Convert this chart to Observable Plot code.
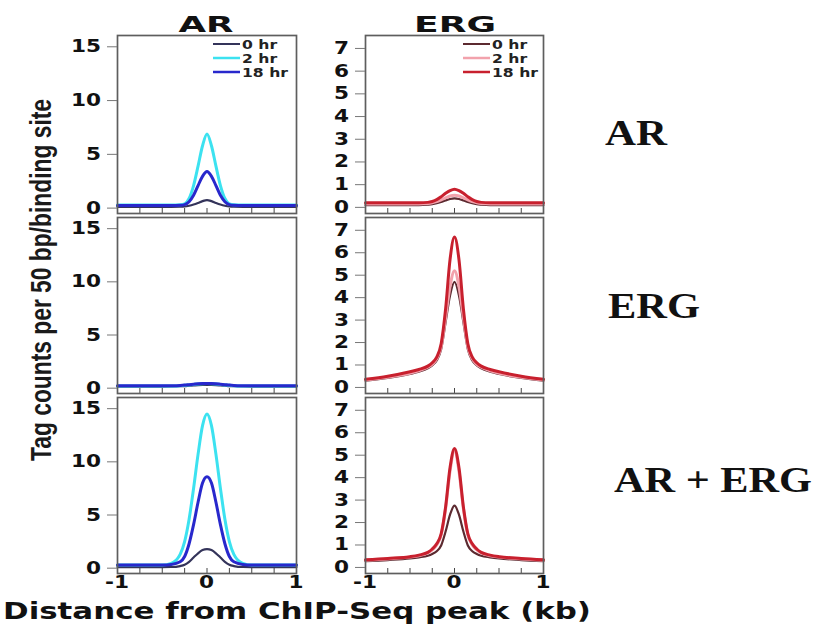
<!DOCTYPE html>
<html><head><meta charset="utf-8">
<script src="https://cdn.jsdelivr.net/npm/d3@7"></script>
<script src="https://cdn.jsdelivr.net/npm/@observablehq/plot@0.6"></script>
<style>
body{margin:0;background:#fff;}
#wrap{position:relative;width:819px;height:635px;overflow:hidden;background:#fff;}
#wrap svg{position:absolute;}
</style></head><body><div id="wrap"></div>
<script>
// ---- data ----
const distance = [-1, -0.75, -0.5, -0.4, -0.3, -0.25, -0.2, -0.15, -0.1, -0.05, 0, 0.05, 0.1, 0.15, 0.2, 0.25, 0.3, 0.4, 0.5, 0.75, 1];
const timepoints = ["0 hr", "2 hr", "18 hr"];
const arColors = ["#34345a", "#3ce2f0", "#2828cc"];
const ergColors = ["#5c2a30", "#f2a2ac", "#c8202e"];

// Row "AR" sites
const arChip_arSites_0hr  = [0.12,0.12,0.12,0.12,0.13,0.15,0.22,0.33,0.48,0.65,0.75,0.65,0.48,0.33,0.22,0.15,0.13,0.12,0.12,0.12,0.12];
const arChip_arSites_2hr  = [0.3,0.3,0.3,0.3,0.32,0.4,0.9,2.1,3.9,5.8,6.9,5.8,3.9,2.1,0.9,0.4,0.32,0.3,0.3,0.3,0.3];
const arChip_arSites_18hr = [0.25,0.25,0.25,0.25,0.27,0.33,0.6,1.2,2.1,2.95,3.4,2.95,2.1,1.2,0.6,0.33,0.27,0.25,0.25,0.25,0.25];
const ergChip_arSites_0hr  = [0.1,0.1,0.1,0.1,0.12,0.14,0.18,0.24,0.31,0.37,0.4,0.37,0.31,0.24,0.18,0.14,0.12,0.1,0.1,0.1,0.1];
const ergChip_arSites_2hr  = [0.15,0.15,0.15,0.15,0.17,0.2,0.25,0.33,0.42,0.5,0.53,0.5,0.42,0.33,0.25,0.2,0.17,0.15,0.15,0.15,0.15];
const ergChip_arSites_18hr = [0.2,0.2,0.2,0.2,0.22,0.26,0.34,0.47,0.62,0.74,0.8,0.74,0.62,0.47,0.34,0.26,0.22,0.2,0.2,0.2,0.2];
// Row "ERG" sites
const arChip_ergSites_0hr  = [0.15,0.15,0.15,0.16,0.18,0.2,0.23,0.26,0.29,0.31,0.32,0.31,0.29,0.26,0.23,0.2,0.18,0.16,0.15,0.15,0.15];
const arChip_ergSites_2hr  = [0.2,0.2,0.2,0.21,0.24,0.27,0.31,0.35,0.39,0.42,0.43,0.42,0.39,0.35,0.31,0.27,0.24,0.21,0.2,0.2,0.2];
const arChip_ergSites_18hr = [0.22,0.22,0.22,0.23,0.26,0.29,0.33,0.37,0.41,0.44,0.45,0.44,0.41,0.37,0.33,0.29,0.26,0.23,0.22,0.22,0.22];
const ergChip_ergSites_0hr  = [0.3,0.42,0.6,0.7,0.85,0.98,1.2,1.7,2.9,4.1,4.7,4.1,2.9,1.7,1.2,0.98,0.85,0.7,0.6,0.42,0.3];
const ergChip_ergSites_2hr  = [0.33,0.45,0.63,0.74,0.9,1.03,1.27,1.8,3.1,4.5,5.2,4.5,3.1,1.8,1.27,1.03,0.9,0.74,0.63,0.45,0.33];
const ergChip_ergSites_18hr = [0.36,0.5,0.7,0.8,0.95,1.1,1.35,1.95,3.5,5.7,6.7,5.7,3.5,1.95,1.35,1.1,0.95,0.8,0.7,0.5,0.36];
// Row "AR + ERG" sites
const arChip_bothSites_0hr  = [0.1,0.1,0.1,0.11,0.2,0.32,0.6,1.0,1.4,1.7,1.8,1.7,1.4,1.0,0.6,0.32,0.2,0.11,0.1,0.1,0.1];
const arChip_bothSites_2hr  = [0.3,0.3,0.3,0.45,1.3,2.5,4.6,7.5,10.7,13.4,14.5,13.4,10.7,7.5,4.6,2.5,1.3,0.45,0.3,0.3,0.3];
const arChip_bothSites_18hr = [0.3,0.3,0.3,0.35,0.6,1.1,2.3,4.1,6.2,8.0,8.6,8.0,6.2,4.1,2.3,1.1,0.6,0.35,0.3,0.3,0.3];
const ergChip_bothSites_0hr  = [0.28,0.33,0.4,0.45,0.52,0.6,0.72,0.98,1.6,2.35,2.75,2.35,1.6,0.98,0.72,0.6,0.52,0.45,0.4,0.33,0.28];
const ergChip_bothSites_2hr  = [0.32,0.38,0.46,0.52,0.64,0.78,1.0,1.45,2.6,4.3,5.2,4.3,2.6,1.45,1.0,0.78,0.64,0.52,0.46,0.38,0.32];
const ergChip_bothSites_18hr = [0.34,0.4,0.48,0.55,0.67,0.82,1.05,1.5,2.7,4.45,5.3,4.45,2.7,1.5,1.05,0.82,0.67,0.55,0.48,0.4,0.34];

const columnTitles = ["AR", "ERG"];
const rowLabels = ["AR", "ERG", "AR + ERG"];
const yTicksAR = [0, 5, 10, 15];
const yTicksERG = [0, 1, 2, 3, 4, 5, 6, 7];
const xTickLabels = [-1, 0, 1];
const xMinorTicks = [-0.75, -0.5, -0.25, 0, 0.25, 0.5, 0.75];
const yAxisTitle = "Tag counts per 50 bp/binding site";
const xAxisTitle = "Distance from ChIP-Seq peak (kb)";

// ---- layout ----
const colFrames = [[117, 296], [365, 543]];
const rowFrames = [[35, 213], [217, 393], [397, 573]];
const wrap = document.getElementById("wrap");
const heavy = "'DejaVu Sans', 'Liberation Sans', Arial, sans-serif";
const sans = "'Liberation Sans', Arial, sans-serif";
const serif = "'Liberation Serif', 'Times New Roman', serif";

function stretch(el, k) {
  const L = el.getComputedTextLength();
  if (L > 0) {
    el.setAttribute("textLength", L * k);
    el.setAttribute("lengthAdjust", "spacingAndGlyphs");
  }
}

const tickLabelJobs = [];

function makePanel(col, row, seriesList) {
  const [x0, x1] = colFrames[col], [y0, y1] = rowFrames[row];
  const mL = 70, mT = 2, mR = 2, mB = row === 2 ? 40 : 2;
  const fw = x1 - x0, fh = y1 - y0;
  const colors = col === 0 ? arColors : ergColors;
  const yTicks = col === 0 ? yTicksAR : yTicksERG;
  const lineMarks = seriesList.map((vals, i) =>
    Plot.line(vals.map((v, j) => ({x: distance[j], y: v})), {
      x: "x", y: "y", stroke: colors[i], strokeWidth: i === 0 ? 2.2 : 3, curve: "monotone-x"
    }));
  const marks = [
    Plot.ruleX(xMinorTicks, {x: d => d, insetTop: fh - 5, stroke: "#444", strokeWidth: 1}),
    ...lineMarks,
    Plot.frame({stroke: "#5e5e5e", strokeWidth: 1.7}),
    Plot.axisY({ticks: yTicks, tickSize: 10, stroke: "#777", label: null, tickFormat: () => ""})
  ];
  const svg = Plot.plot({
    width: fw + mL + mR, height: fh + mT + mB,
    marginLeft: mL, marginRight: mR, marginTop: mT, marginBottom: mB,
    x: {domain: [-1, 1], axis: null},
    y: {domain: col === 0 ? [-0.5, 16.05] : [-0.27, 7.57]},
    style: {background: "transparent", overflow: "visible"},
    marks
  });
  const left = x0 - mL, top = y0 - mT;
  svg.style.left = left + "px";
  svg.style.top = top + "px";
  wrap.appendChild(svg);
  // tick labels positioned with the plot's own scales
  const ys = svg.scale("y"), xs = svg.scale("x");
  yTicks.forEach(v => tickLabelJobs.push({x: x0 - 16, y: top + ys.apply(v) + 6, text: String(v), anchor: "end"}));
  if (row === 2) xTickLabels.forEach(v => tickLabelJobs.push({x: left + xs.apply(v), y: y1 + 15, text: String(v), anchor: "middle"}));
}

makePanel(0, 0, [arChip_arSites_0hr, arChip_arSites_2hr, arChip_arSites_18hr]);
makePanel(1, 0, [ergChip_arSites_0hr, ergChip_arSites_2hr, ergChip_arSites_18hr]);
makePanel(0, 1, [arChip_ergSites_0hr, arChip_ergSites_2hr, arChip_ergSites_18hr]);
makePanel(1, 1, [ergChip_ergSites_0hr, ergChip_ergSites_2hr, ergChip_ergSites_18hr]);
makePanel(0, 2, [arChip_bothSites_0hr, arChip_bothSites_2hr, arChip_bothSites_18hr]);
makePanel(1, 2, [ergChip_bothSites_0hr, ergChip_bothSites_2hr, ergChip_bothSites_18hr]);

// ---- overlay text ----
const ov = d3.select(wrap).append("svg").attr("width", 819).attr("height", 635).style("left", "0px").style("top", "0px");

tickLabelJobs.forEach(j => {
  const t = ov.append("text").attr("x", j.x).attr("y", j.y).attr("text-anchor", j.anchor)
    .attr("font-family", heavy).attr("font-weight", "bold").attr("font-size", 17).attr("fill", "#111").text(j.text);
  stretch(t.node(), 1.27);
});

// column titles
[[206, columnTitles[0], 55], [455, columnTitles[1], 82]].forEach(([cx, txt, len]) => {
  ov.append("text").attr("x", cx).attr("y", 32).attr("text-anchor", "middle")
    .attr("font-family", heavy).attr("font-weight", "bold").attr("font-size", 22).attr("fill", "#111")
    .attr("textLength", len).attr("lengthAdjust", "spacingAndGlyphs").text(txt);
});

// legends
[[213, arColors], [463, ergColors]].forEach(([lx, colors]) => {
  timepoints.forEach((tp, i) => {
    const y = 44 + i * 14;
    ov.append("line").attr("x1", lx).attr("x2", lx + 27).attr("y1", y).attr("y2", y)
      .attr("stroke", colors[i]).attr("stroke-width", i === 0 ? 2 : 2.5);
    const t = ov.append("text").attr("x", lx + 29).attr("y", y + 4.5)
      .attr("font-family", heavy).attr("font-weight", "bold").attr("font-size", 12).attr("fill", "#222").text(tp);
    stretch(t.node(), 1.3);
  });
});

// y axis title (rotated)
ov.append("text").attr("transform", "translate(43,280) scale(1.3,1) rotate(-90)")
  .attr("text-anchor", "middle").attr("dominant-baseline", "middle")
  .attr("font-family", sans).attr("font-weight", "bold").attr("font-size", 22).attr("fill", "#1a1a1a")
  .attr("textLength", 362).attr("lengthAdjust", "spacingAndGlyphs").text(yAxisTitle);

// x axis title
ov.append("text").attr("x", 3).attr("y", 619)
  .attr("font-family", heavy).attr("font-weight", "bold").attr("font-size", 23).attr("fill", "#111")
  .attr("textLength", 588).attr("lengthAdjust", "spacingAndGlyphs").text(xAxisTitle);

// row labels
[[605, 145, 62], [608, 318, 92], [614, 492, 198]].forEach(([x, y, len], i) => {
  ov.append("text").attr("x", x).attr("y", y)
    .attr("font-family", serif).attr("font-weight", "bold").attr("font-size", 36).attr("fill", "#111")
    .attr("textLength", len).attr("lengthAdjust", "spacingAndGlyphs").text(rowLabels[i]);
});
</script></body></html>
